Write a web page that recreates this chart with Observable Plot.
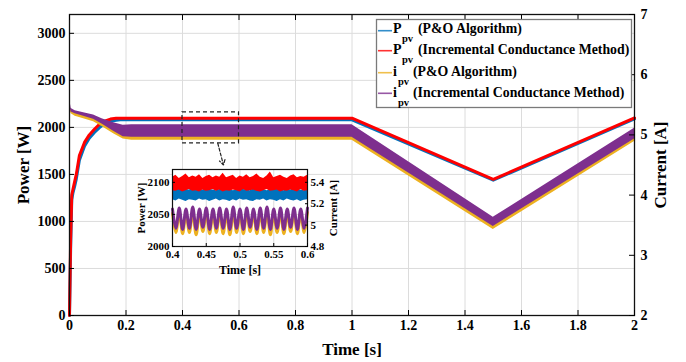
<!DOCTYPE html>
<html><head><meta charset="utf-8">
<script src="https://cdn.jsdelivr.net/npm/d3@7"></script>
<script src="https://cdn.jsdelivr.net/npm/@observablehq/plot@0.6"></script>
<style>
body{margin:0;background:#fff;}
#wrap{position:relative;width:686px;height:362px;overflow:hidden;}
#wrap svg{position:absolute;}
</style></head>
<body><div id="wrap"></div>
<script>
// ---------- data ----------
const xTicks = [0, 0.2, 0.4, 0.6, 0.8, 1, 1.2, 1.4, 1.6, 1.8, 2];
const pTicks = [0, 500, 1000, 1500, 2000, 2500, 3000];
const iTicks = [2, 3, 4, 5, 6, 7];

// power series (W)
const tP    = [0, 0.004, 0.008, 0.012, 0.018, 0.024, 0.035, 0.053, 0.07, 0.088, 0.105, 0.124, 0.145, 0.165, 0.18, 1.0, 1.5, 2.0];
const pInc  = [0, 800, 1280, 1340, 1420, 1500, 1700, 1840, 1920, 1980, 2030, 2065, 2088, 2097, 2098, 2098, 1448, 2100];
const pPO   = [0, 700, 1230, 1300, 1370, 1450, 1650, 1800, 1885, 1945, 1995, 2040, 2065, 2076, 2080, 2080, 1438, 2090];

// current series (A), ripple band min / max
const tI       = [0, 0.002, 0.006, 0.02, 0.05, 0.085, 0.115, 0.156, 0.19, 0.22, 1.0, 1.5, 2.0];
const iIncHi   = [5.78, 5.55, 5.44, 5.40, 5.37, 5.33, 5.27, 5.20, 5.16, 5.17, 5.17, 3.63, 5.11];
const iIncLo   = [5.66, 5.46, 5.38, 5.35, 5.31, 5.26, 5.18, 5.06, 4.97, 4.96, 4.96, 3.48, 4.93];
const iPOHi    = [5.52, 5.47, 5.42, 5.38, 5.34, 5.30, 5.24, 5.16, 5.11, 5.12, 5.12, 3.58, 5.07];
const iPOLo    = [5.45, 5.40, 5.35, 5.31, 5.27, 5.22, 5.14, 5.02, 4.93, 4.91, 4.91, 3.43, 4.89];

// zoom window and arrow
const zoomBox   = [{t1: 0.4, t2: 0.6, p1: 1830, p2: 2160}];
const zoomArrow = [{t1: 0.525, p1: 1830, t2: 0.545, p2: 1600}];

// inset data
const insetXTicks = [0.4, 0.45, 0.5, 0.55, 0.6];
const insetPTicks = [2000, 2050, 2100];
const insetITicks = [4.8, 5, 5.2, 5.4];
const tIn = [0.400,0.405,0.410,0.415,0.420,0.425,0.430,0.435,0.440,0.445,0.450,0.455,0.460,0.465,0.470,0.475,0.480,0.485,0.490,0.495,0.500,0.505,0.510,0.515,0.520,0.525,0.530,0.535,0.540,0.545,0.550,0.555,0.560,0.565,0.570,0.575,0.580,0.585,0.590,0.595,0.600];
const inRedHi  = [2108,2111,2106,2109,2113,2107,2110,2108,2112,2106,2109,2111,2107,2110,2108,2114,2107,2109,2111,2106,2110,2108,2112,2107,2109,2113,2108,2106,2110,2116,2107,2109,2111,2108,2106,2110,2112,2107,2109,2108,2111];
const inRedLo  = [2087,2086,2088,2085,2087,2089,2086,2087,2085,2088,2086,2087,2089,2086,2088,2085,2087,2086,2088,2087,2085,2089,2086,2087,2088,2086,2085,2087,2089,2086,2087,2088,2085,2087,2086,2088,2087,2085,2089,2086,2087];
const inBlueHi = [2089,2088,2090,2087,2089,2088,2090,2089,2087,2088,2090,2089,2088,2087,2089,2090,2088,2089,2087,2088,2090,2089,2088,2087,2090,2089,2088,2089,2087,2088,2090,2089,2088,2087,2089,2088,2090,2089,2088,2087,2089];
const inBlueLo = [2073,2071,2074,2072,2070,2073,2072,2071,2074,2072,2073,2070,2072,2074,2071,2073,2072,2070,2073,2071,2074,2072,2073,2071,2070,2073,2072,2074,2071,2073,2072,2070,2073,2071,2074,2072,2071,2073,2070,2072,2073];
const inIInc   = [5.15,4.97,5.16,4.96,5.15,4.97,5.17,4.96,5.15,4.98,5.16,4.96,5.15,4.97,5.16,4.97,5.15,4.96,5.17,4.97,5.15,4.96,5.16,4.98,5.15,4.96,5.16,4.97,5.17,4.96,5.15,4.97,5.16,4.96,5.15,4.98,5.16,4.96,5.15,4.97,5.16];
const inIPO    = [5.11,4.93,5.12,4.92,5.11,4.93,5.12,4.91,5.11,4.94,5.12,4.92,5.11,4.93,5.12,4.92,5.11,4.91,5.12,4.93,5.11,4.92,5.12,4.94,5.11,4.92,5.12,4.93,5.12,4.91,5.11,4.93,5.12,4.92,5.11,4.94,5.12,4.92,5.11,4.93,5.12];

const legendMain = ["P", "P", "i", "i"];
const legendText = ["(P&O Algorithm)", "(Incremental Conductance Method)", "(P&O Algorithm)", "(Incremental Conductance Method)"];
const colors = {po: "#0072BD", inc: "#FF0000", ipo: "#EDB120", iinc: "#7E2F8E"};
const legendColors = [colors.po, colors.inc, colors.ipo, colors.iinc];

// ---------- helpers ----------
const FONT = '"Liberation Serif", "Times New Roman", serif';
const toP = i => (i - 2) * 640;                 // right axis current -> left axis power
const toInP = i => 2000 + (i - 4.8) * (120 / 0.72);
const powerRows = tP.map((t, k) => ({t, inc: pInc[k], po: pPO[k]}));
const curRows = tI.map((t, k) => ({t, incHi: toP(iIncHi[k]), incLo: toP(iIncLo[k]), poHi: toP(iPOHi[k]), poLo: toP(iPOLo[k])}));
const inRows = tIn.map((t, k) => ({t, rHi: inRedHi[k], rLo: inRedLo[k], bHi: inBlueHi[k], bLo: inBlueLo[k], iInc: toInP(inIInc[k]), iPO: toInP(inIPO[k])}));
const grid = "#dcdcdc";

const main = Plot.plot({
  width: 686, height: 362, marginLeft: 69, marginRight: 52, marginTop: 14, marginBottom: 47,
  style: {fontFamily: FONT, fontWeight: "bold", fontSize: "14px", background: "white", color: "black", overflow: "visible"},
  x: {domain: [0, 2]},
  y: {domain: [0, 3200]},
  marks: [
    Plot.gridX(xTicks, {stroke: grid, strokeOpacity: 1}),
    Plot.gridY(pTicks, {stroke: grid, strokeOpacity: 1}),
    Plot.line(powerRows, {x: "t", y: "po", stroke: colors.po, strokeWidth: 3}),
    Plot.line(powerRows, {x: "t", y: "inc", stroke: colors.inc, strokeWidth: 3}),
    Plot.areaY(curRows, {x: "t", y1: "poLo", y2: "poHi", fill: colors.ipo}),
    Plot.areaY(curRows, {x: "t", y1: "incLo", y2: "incHi", fill: colors.iinc}),
    Plot.rect(zoomBox, {x1: "t1", x2: "t2", y1: "p1", y2: "p2", fill: "none", stroke: "#222", strokeDasharray: "4,3", strokeWidth: 1.2}),
    Plot.arrow(zoomArrow, {x1: "t1", y1: "p1", x2: "t2", y2: "p2", stroke: "#222", strokeDasharray: "3,2", strokeWidth: 1.2, headLength: 7}),
    Plot.frame({stroke: "#111", strokeWidth: 1.3}),
    Plot.axisX({ticks: xTicks, anchor: "bottom", tickSize: -5, tickPadding: 10, label: null, tickFormat: d => String(d)}),
    Plot.axisX({ticks: xTicks, anchor: "top", tickSize: -5, label: null, tickFormat: () => ""}),
    Plot.axisY({ticks: pTicks, anchor: "left", tickSize: -5, tickPadding: 9, label: null, tickFormat: d => String(d)}),
    Plot.axisY({ticks: iTicks.map(toP), anchor: "right", tickSize: -6, tickPadding: 12, label: null, tickFormat: d => String(Math.round(d / 640 + 2))})
  ]
});
main.style.left = "0px"; main.style.top = "0px";
document.getElementById("wrap").appendChild(main);

const inset = Plot.plot({
  width: 220, height: 112, marginLeft: 45, marginRight: 40, marginTop: 5, marginBottom: 30,
  style: {fontFamily: FONT, fontWeight: "bold", fontSize: "11px", background: "transparent", color: "black", overflow: "visible"},
  x: {domain: [0.4, 0.6]},
  y: {domain: [2000, 2120]},
  marks: [
    Plot.frame({fill: "white"}),
    Plot.gridX(insetXTicks, {stroke: grid, strokeOpacity: 1}),
    Plot.gridY(insetPTicks, {stroke: grid, strokeOpacity: 1}),
    Plot.areaY(inRows, {x: "t", y1: "bLo", y2: "bHi", fill: colors.po}),
    Plot.areaY(inRows, {x: "t", y1: "rLo", y2: "rHi", fill: colors.inc}),
    Plot.line(inRows, {x: "t", y: "iPO", stroke: colors.ipo, strokeWidth: 3, curve: "catmull-rom"}),
    Plot.line(inRows, {x: "t", y: "iInc", stroke: colors.iinc, strokeWidth: 3, curve: "catmull-rom"}),
    Plot.frame({stroke: "#111", strokeWidth: 1.2}),
    Plot.axisX({ticks: insetXTicks, anchor: "bottom", tickSize: -3, tickPadding: 7, label: null, tickFormat: d => String(d)}),
    Plot.axisY({ticks: insetPTicks, anchor: "left", tickSize: -3, tickPadding: 6, label: null, tickFormat: d => String(d)}),
    Plot.axisY({ticks: insetITicks.map(toInP), anchor: "right", tickSize: -3, tickPadding: 6, label: null, tickFormat: d => String(+((d - 2000) / (120 / 0.72) + 4.8).toFixed(1))})
  ]
});
inset.style.left = "127px"; inset.style.top = "164px";
document.getElementById("wrap").appendChild(inset);

// ---------- overlay: axis titles & legend ----------
const ov = d3.select("#wrap").append("svg")
  .attr("width", 686).attr("height", 362)
  .style("left", "0px").style("top", "0px")
  .attr("font-family", FONT).attr("font-weight", "bold").attr("fill", "black");

ov.append("text").attr("x", 352).attr("y", 355).attr("text-anchor", "middle").attr("font-size", 17).text("Time [s]");
ov.append("text").attr("transform", "translate(29,165) rotate(-90)").attr("text-anchor", "middle").attr("font-size", 17).text("Power [W]");
ov.append("text").attr("transform", "translate(666,165) rotate(-90)").attr("text-anchor", "middle").attr("font-size", 17).text("Current [A]");

ov.append("text").attr("x", 240).attr("y", 274).attr("text-anchor", "middle").attr("font-size", 12).text("Time [s]");
ov.append("text").attr("transform", "translate(145,208) rotate(-90)").attr("text-anchor", "middle").attr("font-size", 11).text("Power [W]");
ov.append("text").attr("transform", "translate(337,208) rotate(-90)").attr("text-anchor", "middle").attr("font-size", 11).text("Current [A]");

ov.append("rect").attr("x", 376.5).attr("y", 19.5).attr("width", 255).attr("height", 88)
  .attr("fill", "white").attr("stroke", "#7a7a7a").attr("stroke-width", 1.3);
const lineY = [30.7, 50.7, 72.7, 93.3];
const baseY = [33, 54, 76, 97];
legendMain.forEach((m, k) => {
  ov.append("line").attr("x1", 378).attr("x2", 392).attr("y1", lineY[k]).attr("y2", lineY[k])
    .attr("stroke", legendColors[k]).attr("stroke-width", 1.6).attr("opacity", 0.8);
  const isP = m === "P";
  ov.append("text").attr("x", 393).attr("y", baseY[k]).attr("font-size", 14).text(m);
  ov.append("text").attr("x", isP ? 402 : 398).attr("y", baseY[k] + 9).attr("font-size", 10.5).text("pv");
  ov.append("text").attr("x", isP ? 418 : 413).attr("y", baseY[k]).attr("font-size", 13.8).text(legendText[k]);
});
</script>
</body></html>
